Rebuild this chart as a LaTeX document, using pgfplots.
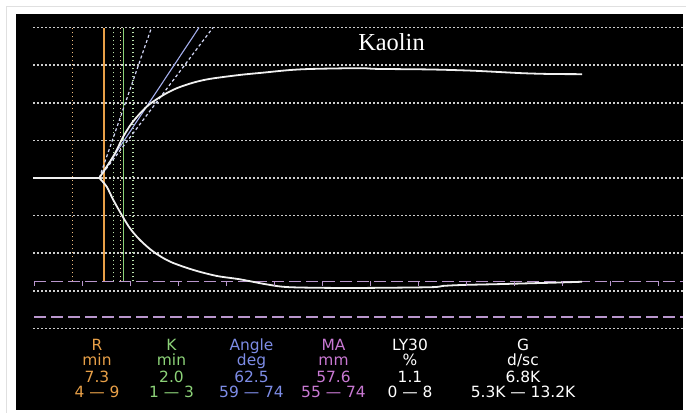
\documentclass[border=0pt]{standalone}
\usepackage{pgfplots}
\pgfplotsset{compat=1.18}
\usepackage{fontspec}
\setmainfont{DejaVu Sans}
\newfontfamily\titlefont{Liberation Serif}

\definecolor{rorange}{RGB}{232,160,72}
\definecolor{kgreen}{RGB}{140,210,120}
\definecolor{angblue}{RGB}{125,140,230}
\definecolor{mapurple}{RGB}{200,120,210}
\definecolor{griddot}{RGB}{205,205,205}
\definecolor{madash}{RGB}{185,150,205}
\definecolor{trace}{RGB}{240,240,240}

% one column of the results table: x centre, colour, four lines
\newcommand{\col}[6]{%
  \node[anchor=base, text=#2] at (#1,61.2) {#3};
  \node[anchor=base, text=#2] at (#1,46.2) {#4};
  \node[anchor=base, text=#2] at (#1,30.0) {#5};
  \node[anchor=base, text=#2] at (#1,15.0) {#6};
}

\begin{document}
\begin{tikzpicture}[x=1bp,y=1bp]
\path[use as bounding box] (0,0) rectangle (686,412);
\fill[white] (0,0) rectangle (686,412);
\draw[black!12, line width=1bp] (6,-1) -- (6,405) -- (687,405);
\fill[black] (16,2) rectangle (683,398);

\begin{axis}[
  at={(16bp,2bp)}, anchor=south west,
  scale only axis, width=667bp, height=396bp,
  xmin=-1.875, xmax=67.6, ymin=-123.4, ymax=87.2,
  hide axis, clip=false,
  dots/.style={line width=1.6bp, dash pattern=on 1.6bp off 2.4bp},
]
% dotted grid, 20 mm apart
\pgfplotsinvokeforeach{-80,-60,-40,-20,0,20,40,60,80}{
  \addplot[griddot, dots] coordinates {(-0.1,#1) (67.6,#1)};
}
% MA normal range 55 - 74 mm
\addplot[madash, line width=1.4bp, dash pattern=on 12bp off 5bp] coordinates {(0,-55) (67.6,-55)};
\addplot[madash, line width=1.4bp, dash pattern=on 12bp off 5bp] coordinates {(0,-74) (67.6,-74)};
\addplot[madash, only marks, mark=|, mark size=2.4bp, mark options={line width=1bp}]
  coordinates {(0,-56.3) (5,-56.3) (10,-56.3) (15,-56.3) (20,-56.3) (25,-56.3) (30,-56.3)
               (35,-56.3) (40,-56.3) (45,-56.3) (50,-56.3) (55,-56.3) (60,-56.3) (65,-56.3)};

% R and K markers
\addplot[rorange!70!white, dots] coordinates {(4,-55) (4,80)};
\addplot[kgreen!60!white, dots] coordinates {(8.3,-55) (8.3,80)};
\addplot[rorange!50!white, dots] coordinates {(9,-55) (9,80)};
\addplot[kgreen!60!white, dots] coordinates {(10.3,-55) (10.3,80)};
\addplot[rorange, line width=1.2bp] coordinates {(7.3,-55) (7.3,80)};
\addplot[kgreen, line width=1.2bp] coordinates {(9.3,-55) (9.3,80)};

% angle lines
\addplot[angblue!70!white, line width=1.1bp] coordinates {(6.8,0) (17.19,80)};
\addplot[angblue!35!white, line width=1.2bp, dash pattern=on 3bp off 2.5bp] coordinates {(6.8,0) (12.24,80)};
\addplot[angblue!35!white, line width=1.2bp, dash pattern=on 3bp off 2.5bp] coordinates {(6.8,0) (18.65,80)};

% trace
\addplot[trace, line width=1.8bp] coordinates {(-0.1,0) (6.8,0)};
\addplot[trace, line width=1.8bp, smooth, tension=0.5] coordinates {
  (6.8,0) (7.57,6.0) (8.44,13.1) (9.30,22.0) (10.18,29.1) (11.22,35.3) (12.08,39.4)
  (13.47,44.1) (14.86,47.7) (16.59,50.7) (18.33,52.7) (21.46,54.8) (23.85,56.0)
  (26.67,57.4) (29.06,58.0) (33.96,58.4) (35.73,58.0) (41.25,57.7) (45.42,57.1)
  (48.23,56.4) (50.94,55.7) (53.75,55.3) (57.08,55.2)};
\addplot[trace, line width=1.8bp, smooth, tension=0.5] coordinates {
  (6.8,0) (7.57,-4.6) (8.26,-11.7) (9.14,-19.7) (10.0,-26.8) (11.04,-33.0) (12.43,-39.2)
  (14.17,-44.5) (16.59,-48.9) (19.03,-52.1) (21.46,-53.9) (24.24,-56.6) (26.67,-58.1)
  (32.92,-58.5) (41.25,-58.1) (42.6,-57.4) (44.69,-56.9) (48.85,-56.4) (51.67,-56.0)
  (54.06,-55.7) (57.08,-55.2)};
\end{axis}

\node[anchor=base, text=white, font=\titlefont\fontsize{24.5}{24.5}\selectfont] at (391.5,362) {Kaolin};

\begin{scope}[font=\fontsize{15.5}{15}\selectfont, inner sep=0pt]
\col{97}{rorange}{R}{min}{7.3}{4 — 9}
\col{171.5}{kgreen}{K}{min}{2.0}{1 — 3}
\col{251.5}{angblue}{Angle}{deg}{62.5}{59 — 74}
\col{333.5}{mapurple}{MA}{mm}{57.6}{55 — 74}
\col{410}{white}{LY30}{\%}{1.1}{0 — 8}
\col{523}{white}{G}{d/sc}{6.8K}{5.3K — 13.2K}
\end{scope}
\end{tikzpicture}
\end{document}
